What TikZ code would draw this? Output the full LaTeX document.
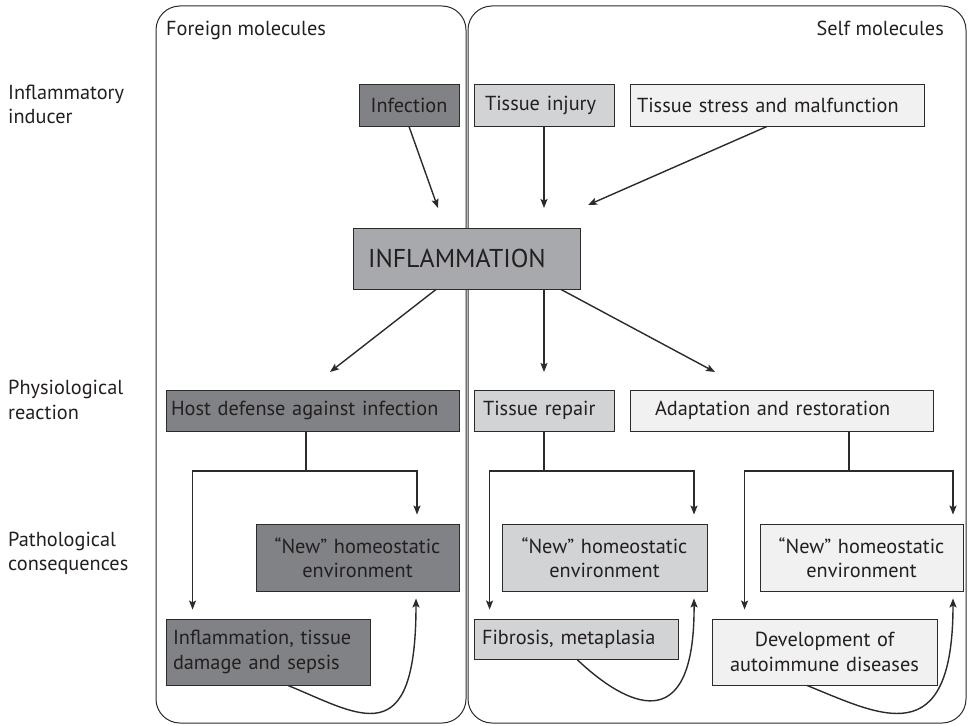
\documentclass[tikz,border=0pt]{standalone}
\usepackage{fontspec}
\setmainfont{PT Sans}
\usetikzlibrary{arrows.meta,calc}
\definecolor{cDark}{HTML}{808285}
\definecolor{cMid}{HTML}{A7A9AC}
\definecolor{cLight}{HTML}{D1D3D4}
\definecolor{cPale}{HTML}{F1F1F2}
\definecolor{cLine}{HTML}{2B2B2B}
\definecolor{cText}{HTML}{231F20}
\begin{document}
\begin{tikzpicture}[x=1pt,y=-1pt,
  txt/.style={font=\fontsize{20.3}{24.5}\selectfont, text=cText},
  box/.style={txt, draw=cLine, line width=0.9pt, inner ysep=0pt, minimum height=#1},
  panel/.style={draw=cLine, line width=1pt, rounded corners=24pt},
  arr/.style={draw=cLine, line width=1.4pt, -{Stealth[length=9pt,width=7pt,inset=1.8pt]}},
  lin/.style={draw=cLine, line width=1.4pt}
]
\useasboundingbox (0,0) rectangle (968,725);
% panels
\draw[panel] (156,6) rectangle (466,723);
\draw[panel] (468,6) rectangle (966,723);
\node[txt, anchor=base west, inner sep=0pt] (lforeign) at (166,36) {Foreign molecules};
\node[txt, anchor=base east, inner sep=0pt] (lself) at (944,36) {Self molecules};
% row labels (anchor at baseline of second line)
\node[txt, anchor=base west, align=left, inner sep=0pt] (rInd) at (8,123.5) {Inflammatory\\inducer};
\node[txt, anchor=base west, align=left, inner sep=0pt] (rPhy) at (8,419) {Physiological\\reaction};
\node[txt, anchor=base west, align=left, inner sep=0pt] (rPat) at (8,570.5) {Pathological\\consequences};
% inducers
\node[box=42pt, fill=cDark, minimum width=100pt] (inf) at (409,105) {Infection};
\node[box=42pt, fill=cLight, inner xsep=11pt, text width=118pt, align=left] (inj) at (544,105) {Tissue injury};
\node[box=42pt, fill=cPale, inner xsep=7pt, text width=280pt, align=left] (str) at (777,105) {Tissue stress and malfunction};
% inflammation
\node[box=61pt, fill=cMid, inner xsep=15pt, text width=197pt, align=left, font=\fontsize{25.8}{28}\selectfont] (infl) at (466.5,258.5) {INFLAMMATION};
% reactions
\node[box=41pt, fill=cDark, inner xsep=5pt, text width=283pt, align=left] (host) at (312.5,410.5) {Host defense against infection};
\node[box=41pt, fill=cLight, inner xsep=9pt, text width=122pt, align=left] (rep) at (544,410.5) {Tissue repair};
\node[box=41pt, fill=cPale, inner xsep=25pt, text width=253pt, align=left] (ada) at (781.5,410.5) {Adaptation and restoration};
% new homeostatic
\node[box=67pt, fill=cDark, text width=193pt, inner xsep=5pt, align=center] (newA) at (357.5,557.5) {“New” homeostatic\\environment};
\node[box=67pt, fill=cLight, text width=195pt, inner xsep=5pt, align=center] (newB) at (604.5,557.5) {“New” homeostatic\\environment};
\node[box=67pt, fill=cPale, text width=193pt, inner xsep=5pt, align=center] (newC) at (861.5,557.5) {“New” homeostatic\\environment};
% pathological
\node[box=66pt, fill=cDark, inner xsep=7pt, text width=190pt, align=left] (sep) at (268,652) {Inflammation, tissue\\damage and sepsis};
\node[box=40pt, fill=cLight, inner xsep=8pt, text width=188pt, align=left] (fib) at (576,639) {Fibrosis, metaplasia};
\node[box=66pt, fill=cPale, inner xsep=5pt, text width=215pt, align=center] (dev) at (824.5,652) {Development of\\autoimmune diseases};
% free arrow ends
\coordinate (tInf) at (438,208);
\coordinate (tInj) at (544,208);
\coordinate (tStr) at (588,205);
\coordinate (oHost) at (330,372);
\coordinate (oRep) at (544,372);
\coordinate (oAda) at (715,372);
% inducer arrows
\draw[arr] (inf.south) -- (tInf);
\draw[arr] (inj.south) -- (tInj);
\draw[arr] ([xshift=-10pt]str.south) -- (tStr);
% inflammation arrows
\draw[arr] ([xshift=-30.5pt]infl.south) -- (oHost);
\draw[arr] ([xshift=77.5pt]infl.south) -- (oRep);
\draw[arr] ([xshift=94.5pt]infl.south) -- (oAda);
% branch connectors
\draw[lin] ([xshift=-6.5pt]host.south) -- ([xshift=-6.5pt]host.south |- 0,471);
\draw[arr] ([xshift=-6.5pt]host.south |- 0,471) -| ([xshift=27pt,yshift=9pt]sep.north west);
\draw[arr] ([xshift=-6.5pt]host.south |- 0,471) -| ([xshift=59.5pt,yshift=9pt]newA.north);
\draw[lin] (rep.south) -- (rep.south |- 0,471);
\draw[arr] (rep.south |- 0,471) -| ([xshift=16pt,yshift=9pt]fib.north west);
\draw[arr] (rep.south |- 0,471) -| ([xshift=89.5pt,yshift=9pt]newB.north);
\draw[lin] ([xshift=67.5pt]ada.south) -- ([xshift=67.5pt]ada.south |- 0,471);
\draw[arr] ([xshift=67.5pt]ada.south |- 0,471) -| ([xshift=33pt,yshift=9pt]dev.north west);
\draw[arr] ([xshift=67.5pt]ada.south |- 0,471) -| ([xshift=91.5pt,yshift=9pt]newC.north);
% curved return arrows
\draw[arr] ([xshift=20pt]sep.south) .. controls (360,715) and (416,755) .. ([xshift=58.5pt,yshift=-7pt]newA.south);
\draw[arr] ([xshift=1pt]fib.south) .. controls (625,705) and (695,742) .. ([xshift=89.5pt,yshift=-7pt]newB.south);
\draw[arr] ([xshift=-17.5pt]dev.south) .. controls (880,715) and (953,755) .. ([xshift=91.5pt,yshift=-7pt]newC.south);
\end{tikzpicture}
\end{document}
